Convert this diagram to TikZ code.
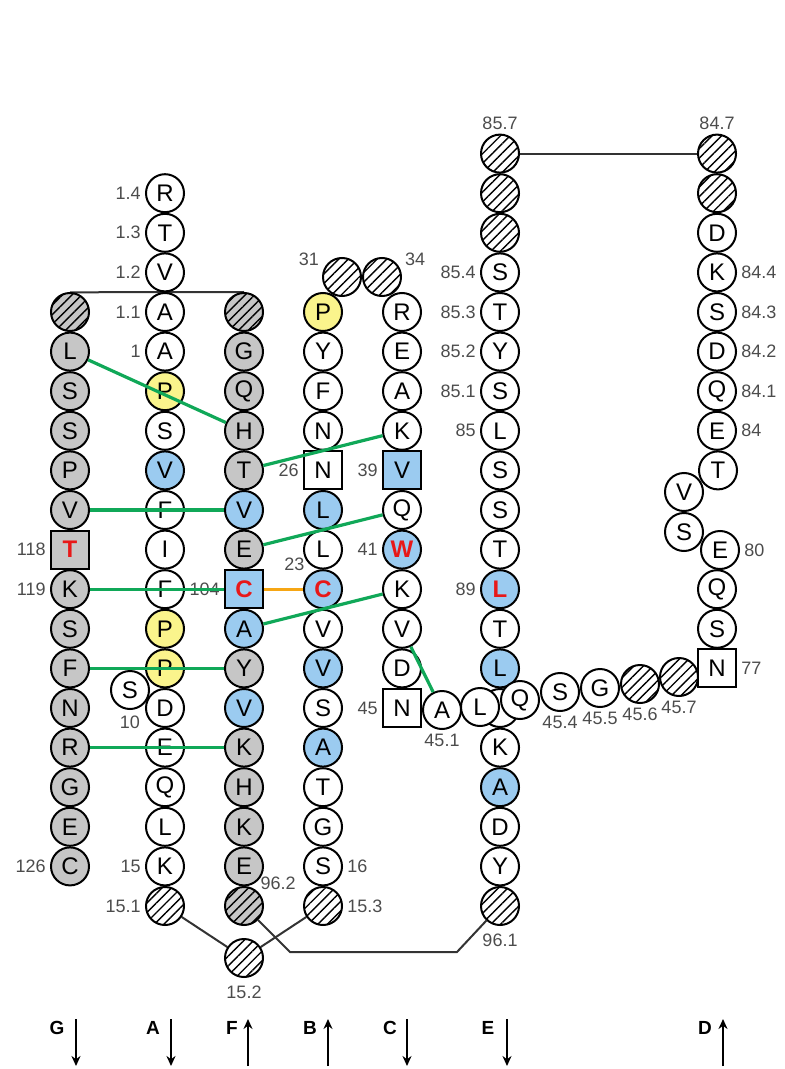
\documentclass[tikz,border=0pt]{standalone}
\usepackage{fontspec}
\setmainfont{Liberation Sans}
\usetikzlibrary{patterns.meta,arrows.meta,backgrounds}

\definecolor{cGray}{RGB}{198,198,198}
\definecolor{cBlue}{RGB}{155,203,240}
\definecolor{cYel}{RGB}{250,244,140}
\definecolor{cGreen}{RGB}{16,168,88}
\definecolor{cOrange}{RGB}{246,166,20}
\definecolor{cRed}{RGB}{232,24,24}

\tikzset{
  res/.style={circle,draw,line width=1pt,minimum size=19pt,inner sep=0pt,fill=white,font=\fontsize{12}{12}\selectfont},
  sq/.style={res,rectangle},
  gfill/.style={fill=cGray},
  bfill/.style={fill=cBlue},
  yfill/.style={fill=cYel},
  hatch/.style={preaction={fill=white},pattern={Lines[angle=45,distance=3.4pt,line width=0.7pt]}},
  ghatch/.style={preaction={fill=cGray},pattern={Lines[angle=45,distance=3.4pt,line width=0.7pt]}},
  mut/.style={text=cRed,font=\fontsize{12}{12}\selectfont\bfseries},
  num/.style={font=\fontsize{9}{9}\selectfont,text=black!70,inner sep=2pt},
  hb/.style={cGreen,line width=1.6pt},
  ss/.style={cOrange,line width=1.7pt},
  lp/.style={black!80,line width=1pt},
  dirlbl/.style={font=\fontsize{9.5}{9.5}\selectfont\bfseries},
  dirarr/.style={line width=1pt,-{Stealth[length=5pt,width=4.5pt]}},
}

\begin{document}
\begin{tikzpicture}[x=0.5pt,y=-0.5pt]
  \useasboundingbox (0,0) rectangle (785,1069);

  % strand G
  \node[res,ghatch] (G0) at (70,312) {};
  \node[res,gfill] (G1) at (70,351.6) {L};
  \node[res,gfill] (G2) at (70,391.2) {S};
  \node[res,gfill] (G3) at (70,430.8) {S};
  \node[res,gfill] (G4) at (70,470.4) {P};
  \node[res,gfill] (G5) at (70,510) {V};
  \node[sq,gfill,mut,label={[num]left:118}] (G6) at (70,549.6) {T};
  \node[res,gfill,label={[num]left:119}] (G7) at (70,589.2) {K};
  \node[res,gfill] (G8) at (70,628.8) {S};
  \node[res,gfill] (G9) at (70,668.4) {F};
  \node[res,gfill] (G10) at (70,708) {N};
  \node[res,gfill] (G11) at (70,747.6) {R};
  \node[res,gfill] (G12) at (70,787.2) {G};
  \node[res,gfill] (G13) at (70,826.8) {E};
  \node[res,gfill,label={[num]left:126}] (G14) at (70,866.4) {C};

  % strand A
  \node[res,label={[num]left:1.4}] (Am3) at (165,193.2) {R};
  \node[res,label={[num]left:1.3}] (Am2) at (165,232.8) {T};
  \node[res,label={[num]left:1.2}] (Am1) at (165,272.4) {V};
  \node[res,label={[num]left:1.1}] (A0) at (165,312) {A};
  \node[res,label={[num]left:1}] (A1) at (165,351.6) {A};
  \node[res,yfill] (A2) at (165,391.2) {P};
  \node[res] (A3) at (165,430.8) {S};
  \node[res,bfill] (A4) at (165,470.4) {V};
  \node[res] (A5) at (165,510) {F};
  \node[res] (A6) at (165,549.6) {I};
  \node[res] (A7) at (165,589.2) {F};
  \node[res,yfill] (A8) at (165,628.8) {P};
  \node[res,yfill] (A9) at (165,668.4) {P};
  \node[res] (A10) at (165,708) {D};
  \node[res] (A11) at (165,747.6) {E};
  \node[res] (A12) at (165,787.2) {Q};
  \node[res] (A13) at (165,826.8) {L};
  \node[res,label={[num]left:15}] (A14) at (165,866.4) {K};
  \node[res,hatch,label={[num]left:15.1}] (A15) at (165,906) {};
  \node[res,label={[num,label distance=1pt]below:10}] (aS) at (130,690) {S};

  % strand F
  \node[res,ghatch] (F0) at (244,312) {};
  \node[res,gfill] (F1) at (244,351.6) {G};
  \node[res,gfill] (F2) at (244,391.2) {Q};
  \node[res,gfill] (F3) at (244,430.8) {H};
  \node[res,gfill] (F4) at (244,470.4) {T};
  \node[res,bfill] (F5) at (244,510) {V};
  \node[res,gfill] (F6) at (244,549.6) {E};
  \node[sq,bfill,mut,label={[num]left:104}] (F7) at (244,589.2) {C};
  \node[res,bfill] (F8) at (244,628.8) {A};
  \node[res,gfill] (F9) at (244,668.4) {Y};
  \node[res,bfill] (F10) at (244,708) {V};
  \node[res,gfill] (F11) at (244,747.6) {K};
  \node[res,gfill] (F12) at (244,787.2) {H};
  \node[res,gfill] (F13) at (244,826.8) {K};
  \node[res,gfill] (F14) at (244,866.4) {E};
  \node[res,ghatch,label={[num,inner sep=1pt]north east:96.2}] (F15) at (244,906) {};
  \node[res,hatch,label={[num,label distance=2pt]below:15.2}] (h152) at (244,958) {};

  % strand B
  \node[res,yfill] (B0) at (323,312) {P};
  \node[res] (B1) at (323,351.6) {Y};
  \node[res] (B2) at (323,391.2) {F};
  \node[res] (B3) at (323,430.8) {N};
  \node[sq,label={[num]left:26}] (B4) at (323,470.4) {N};
  \node[res,bfill] (B5) at (323,510) {L};
  \node[res] (B6) at (323,549.6) {L};
  \node[res,bfill,mut,label={[num]north west:23}] (B7) at (323,589.2) {C};
  \node[res] (B8) at (323,628.8) {V};
  \node[res,bfill] (B9) at (323,668.4) {V};
  \node[res] (B10) at (323,708) {S};
  \node[res,bfill] (B11) at (323,747.6) {A};
  \node[res] (B12) at (323,787.2) {T};
  \node[res] (B13) at (323,826.8) {G};
  \node[res,label={[num]right:16}] (B14) at (323,866.4) {S};
  \node[res,hatch,label={[num]right:15.3}] (B15) at (323,906) {};
  \node[res,hatch,label={[num]160:31}] (b31) at (342,277) {};
  \node[res,hatch,label={[num]20:34}] (b34) at (382,277) {};

  % strand C
  \node[res] (C0) at (402,312) {R};
  \node[res] (C1) at (402,351.6) {E};
  \node[res] (C2) at (402,391.2) {A};
  \node[res] (C3) at (402,430.8) {K};
  \node[sq,bfill,label={[num]left:39}] (C4) at (402,470.4) {V};
  \node[res] (C5) at (402,510) {Q};
  \node[res,bfill,mut,label={[num]left:41}] (C6) at (402,549.6) {W};
  \node[res] (C7) at (402,589.2) {K};
  \node[res] (C8) at (402,628.8) {V};
  \node[res] (C9) at (402,668.4) {D};
  \node[sq,label={[num]left:45}] (C10) at (402,708) {N};

  % strand E
  \node[res,hatch,label={[num]above:85.7}] (Em4) at (500,153.6) {};
  \node[res,hatch] (Em3) at (500,193.2) {};
  \node[res,hatch] (Em2) at (500,232.8) {};
  \node[res,label={[num]left:85.4}] (Em1) at (500,272.4) {S};
  \node[res,label={[num]left:85.3}] (E0) at (500,312) {T};
  \node[res,label={[num]left:85.2}] (E1) at (500,351.6) {Y};
  \node[res,label={[num]left:85.1}] (E2) at (500,391.2) {S};
  \node[res,label={[num]left:85}] (E3) at (500,430.8) {L};
  \node[res] (E4) at (500,470.4) {S};
  \node[res] (E5) at (500,510) {S};
  \node[res] (E6) at (500,549.6) {T};
  \node[res,bfill,mut,label={[num]left:89}] (E7) at (500,589.2) {L};
  \node[res] (E8) at (500,628.8) {T};
  \node[res,bfill] (E9) at (500,668.4) {L};
  \node[res] (E10) at (500,708) {};
  \node[res] (E11) at (500,747.6) {K};
  \node[res,bfill] (E12) at (500,787.2) {A};
  \node[res] (E13) at (500,826.8) {D};
  \node[res] (E14) at (500,866.4) {Y};
  \node[res,hatch,label={[num,label distance=2pt]below:96.1}] (E15) at (500,906) {};

  % loop 45.1 - 77
  \node[res,label={[num]below:45.1}] (n451) at (442,710) {A};
  \node[res] (n452) at (480,707) {L};
  \node[res] (n453) at (520,700) {Q};
  \node[res,label={[num]below:45.4}] (n454) at (560,692) {S};
  \node[res,label={[num]below:45.5}] (n455) at (600,688) {G};
  \node[res,hatch,label={[num]below:45.6}] (n456) at (640,684) {};
  \node[res,hatch,label={[num]below:45.7}] (n457) at (679,677) {};

  % strand D
  \node[res,hatch,label={[num]above:84.7}] (Dm4) at (717,153.6) {};
  \node[res,hatch] (Dm3) at (717,193.2) {};
  \node[res] (Dm2) at (717,232.8) {D};
  \node[res,label={[num]right:84.4}] (Dm1) at (717,272.4) {K};
  \node[res,label={[num]right:84.3}] (D0) at (717,312) {S};
  \node[res,label={[num]right:84.2}] (D1) at (717,351.6) {D};
  \node[res,label={[num]right:84.1}] (D2) at (717,391.2) {Q};
  \node[res,label={[num]right:84}] (D3) at (717,430.8) {E};
  \node[res] (dV) at (684,492) {V};
  \node[res] (dS) at (684,532) {S};
  \node[res] (D4) at (718,470.4) {T};
  \node[res,label={[num]right:80}] (D6) at (720,550) {E};
  \node[res] (D7) at (717,589.2) {Q};
  \node[res] (D8) at (717,628.8) {S};
  \node[sq,label={[num]right:77}] (D9) at (717,668.4) {N};

  % loops
  \coordinate (k1) at (290,952);
  \coordinate (k2) at (457,952);
  \begin{scope}[on background layer]
    \draw[lp] (G0.north) -- (F0.north);
    \draw[lp] (Em4) -- (Dm4);
    \draw[lp] (A15) -- (h152) -- (B15);
    \draw[lp] (F15) -- (k1) -- (k2) -- (E15);
  \end{scope}

  % hydrogen bonds
  \draw[hb] (G1) -- (F3);
  \draw[hb] (F4) -- (C3);
  \draw[hb] (G5) -- (F5);
  \draw[hb] (F6) -- (C5);
  \draw[hb] (G7) -- (F7);
  \draw[hb] (F8) -- (C7);
  \draw[hb] (G9) -- (F9);
  \draw[hb] (G11) -- (F11);
  \draw[hb] (C8) -- (n451);
  \draw[ss] (F7) -- (B7);

  % strand directions
  \node[dirlbl] (dirG) at (57,1028) {G};
  \draw[dirarr] (76,1019) -- (76,1066);
  \node[dirlbl] (dirA) at (153,1028) {A};
  \draw[dirarr] (171,1019) -- (171,1066);
  \node[dirlbl] (dirF) at (232,1028) {F};
  \draw[dirarr] (248,1066) -- (248,1019);
  \node[dirlbl] (dirB) at (310,1028) {B};
  \draw[dirarr] (328,1066) -- (328,1019);
  \node[dirlbl] (dirC) at (390,1028) {C};
  \draw[dirarr] (407,1019) -- (407,1066);
  \node[dirlbl] (dirE) at (488,1028) {E};
  \draw[dirarr] (507,1019) -- (507,1066);
  \node[dirlbl] (dirD) at (705,1028) {D};
  \draw[dirarr] (723,1066) -- (723,1019);
\end{tikzpicture}
\end{document}
